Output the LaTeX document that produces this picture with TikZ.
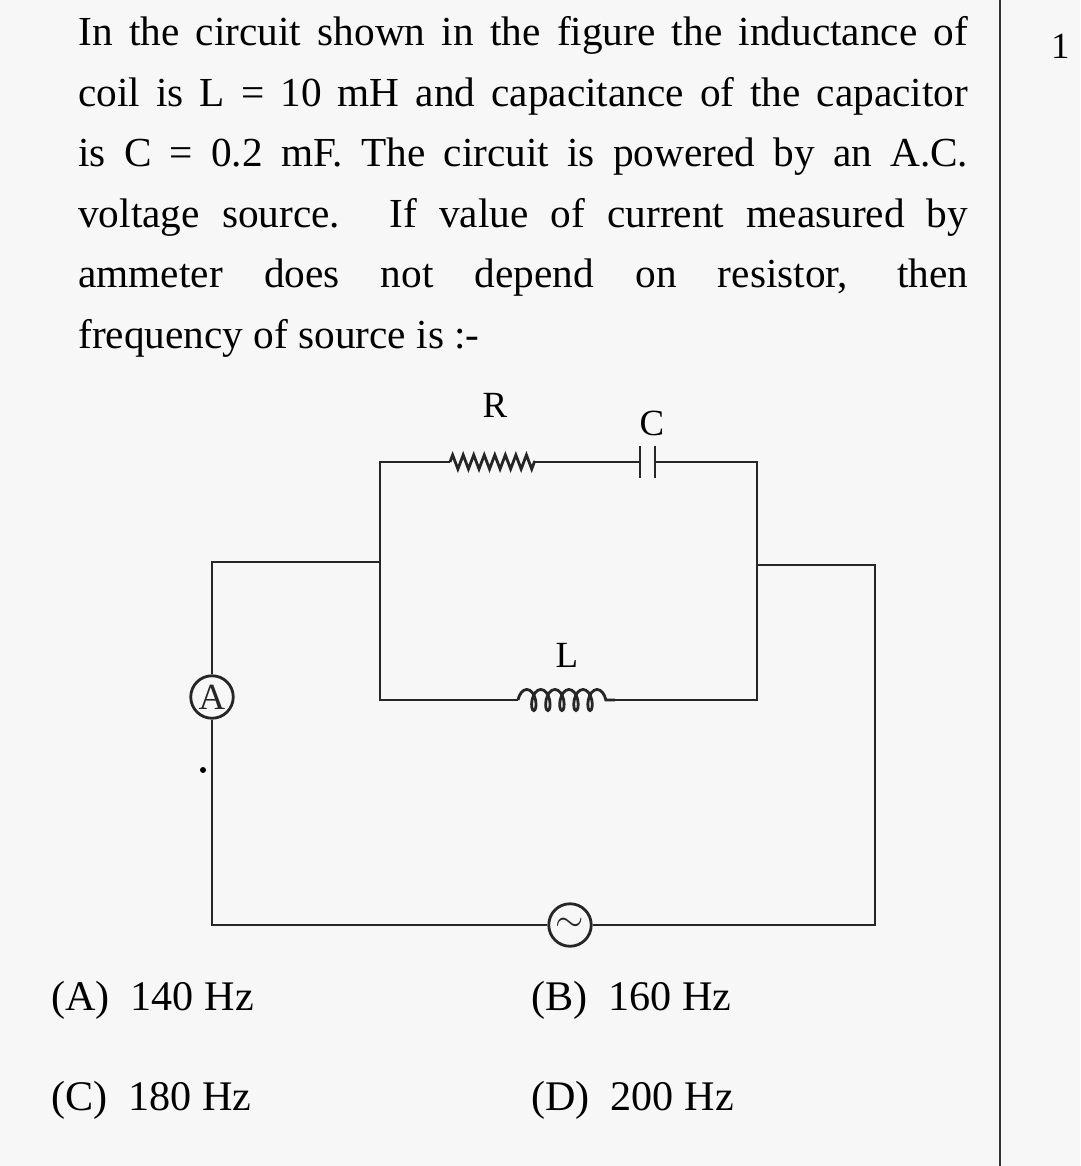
\documentclass[tikz,border=0pt]{standalone}
\usepackage{fontspec}
\setmainfont{Liberation Serif}
\usetikzlibrary{decorations.pathmorphing}
\begin{document}
\begin{tikzpicture}[x=0.02cm,y=-0.02cm,
  w/.style={line width=1.6pt,black!85},
  lab/.style={font=\fontsize{21}{24}\selectfont},
  opt/.style={font=\fontsize{24}{28}\selectfont,anchor=west}]
\useasboundingbox[fill=gray!6] (0,0) rectangle (1080,1166);
\draw[line width=1.4pt,black!80] (1000,0) -- (1000,1166);
\node[lab,anchor=north west] (one) at (1045,28) {1};
\node[anchor=north west,inner sep=0,text width=17.8cm,align=justify,
  font=\fontsize{23.5}{34.5}\selectfont] (q) at (78,16)
 {In the circuit shown in the figure the inductance of\linebreak coil is L = 10 mH and capacitance of the capacitor\linebreak is C = 0.2 mF. The circuit is powered by an A.C.\linebreak voltage source. If value of current measured by\linebreak ammeter does not depend on resistor, then\linebreak frequency of source is :-};
% nodes
\node[circle,draw,w,inner sep=0,minimum size=0.85cm,lab] (A) at (212,697) {A};
\node[circle,draw,w,inner sep=0,minimum size=0.85cm,lab] (S) at (570,925) {$\sim$};
\coordinate (p1) at (212,562); \coordinate (p2) at (380,562);
\coordinate (tl) at (380,462); \coordinate (tr) at (757,462);
\coordinate (bl) at (380,700); \coordinate (br) at (757,700);
\coordinate (p3) at (757,565); \coordinate (p4) at (875,565);
\coordinate (p5) at (875,925); \coordinate (p6) at (212,925);
\coordinate (r1) at (450,462); \coordinate (r2) at (535,462);
\coordinate (c1) at (640,462); \coordinate (c2) at (655,462);
\coordinate (l1) at (518,700); \coordinate (l2) at (615,700);
\draw[w] (A) -- (p1) -- (p2) -- (tl) -- (r1);
\draw[w] (p2) -- (bl) -- (l1);
\draw[w,decorate,decoration={zigzag,segment length=6pt,amplitude=4pt}] (r1) -- (r2);
\draw[w] (r2) -- (c1); \draw[w] (c1)+(0,-16) -- +(0,16); \draw[w] (c2)+(0,-16) -- +(0,16);
\draw[w] (c2) -- (tr) -- (br) -- (l2);
\draw[w,decorate,decoration={coil,segment length=8pt,amplitude=6pt}] (l1) -- (l2);
\draw[w] (p3) -- (p4) -- (p5) -- (S) -- (p6) -- (A);
\fill (203,770) circle (3);
\node[lab] (R) at (495,405) {R};
\node[lab] (C) at (652,423) {C};
\node[lab] (L) at (567,655) {L};
\node[opt] (oA) at (45,1000) {(A)\ \ 140 Hz};
\node[opt] (oB) at (525,1000) {(B)\ \ 160 Hz};
\node[opt] (oC) at (45,1100) {(C)\ \ 180 Hz};
\node[opt] (oD) at (525,1100) {(D)\ \ 200 Hz};
\end{tikzpicture}
\end{document}
